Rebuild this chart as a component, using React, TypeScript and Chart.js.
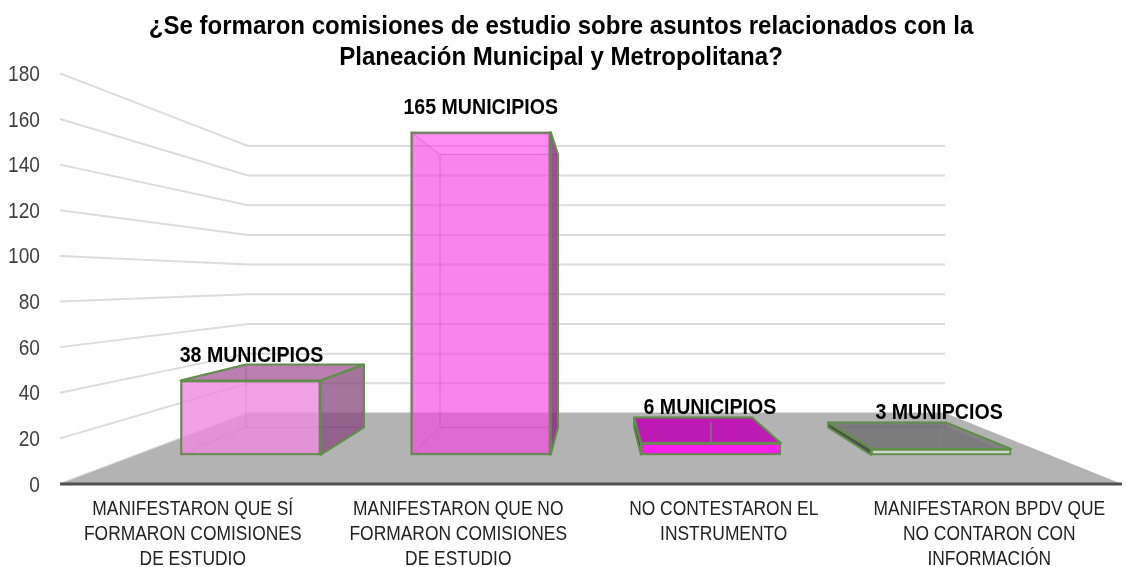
import React, { useEffect, useRef } from "react";
import { Chart, registerables } from "chart.js";

Chart.register(...registerables);

const title = [
  "¿Se formaron comisiones de estudio sobre asuntos relacionados con la",
  "Planeación Municipal y Metropolitana?",
];
const categories = [
  ["MANIFESTARON QUE SÍ", "FORMARON COMISIONES", "DE ESTUDIO"],
  ["MANIFESTARON QUE NO", "FORMARON COMISIONES", "DE ESTUDIO"],
  ["NO CONTESTARON EL", "INSTRUMENTO"],
  ["MANIFESTARON BPDV QUE", "NO CONTARON CON", "INFORMACIÓN"],
];
const values = [38, 165, 6, 3];
const valueLabels = ["38 MUNICIPIOS", "165 MUNICIPIOS", "6 MUNICIPIOS", "3 MUNIPCIOS"];

const frontColors = ["rgba(240,140,225,0.75)", "rgba(255,70,235,0.6)", "rgba(255,20,240,0.9)", "rgba(225,225,225,0.85)"];
const topColors = ["rgba(150,60,135,0.6)", "rgba(200,60,190,0.05)", "rgba(190,20,180,0.95)", "rgba(110,110,110,0.7)"];
const sideColors = ["rgba(130,70,120,0.7)", "rgba(140,40,130,0.8)", "rgba(90,10,85,0.9)", "rgba(70,70,70,0.9)"];
const innerColors = ["rgba(200,120,190,0.22)", "rgba(170,50,155,0.14)", "rgba(190,20,180,0.3)", "rgba(110,110,110,0.3)"];
const edge = "#5f8f4a";
const family = "'Liberation Sans', Arimo, Arial, sans-serif";

// The reference's lettering is condensed; each text size has its own narrowing.
const squeezeFor = (font: string) =>
  font.startsWith("bold 26") ? 0.925 : font.startsWith("bold 22") ? 0.89 : 0.87;

type Pt = [number, number];

function poly(ctx: CanvasRenderingContext2D, pts: Pt[], fill?: string, stroke?: string, lw = 1) {
  ctx.beginPath();
  pts.forEach((p, i) => (i ? ctx.lineTo(p[0], p[1]) : ctx.moveTo(p[0], p[1])));
  ctx.closePath();
  if (fill) {
    ctx.fillStyle = fill;
    ctx.fill();
  }
  if (stroke) {
    ctx.strokeStyle = stroke;
    ctx.lineWidth = lw;
    ctx.lineJoin = "round";
    ctx.stroke();
  }
}

// Perspective: everything is derived from the scales' pixels.
const WALL_X = 188 / 1062;
const WALL_X_R = 177 / 1062;
const WALL_DROP = 71 / 410.5;
const WALL_RATIO = 267 / 410.5;

function boxGeometry(chart: any, i: number) {
  const el = chart.getDatasetMeta(0).data[i];
  const l = el.x - el.width / 2;
  const r = el.x + el.width / 2;
  const top = el.y;
  const base = el.base;
  const mapX = (x: number) => 246 + (x - 180.5) * 0.8429;
  const backBase = base - 27.5;
  const backTop = backBase - (base - top) * 0.845;
  const fl: Pt = [l, base], fr: Pt = [r, base], tl: Pt = [l, top], tr: Pt = [r, top];
  const bfl: Pt = [mapX(l), backBase], bfr: Pt = [mapX(r), backBase], btl: Pt = [mapX(l), backTop], btr: Pt = [mapX(r), backTop];
  return { fl, fr, tl, tr, bfl, bfr, btl, btr, cx: el.x };
}

const box3d = {
  id: "box3d",
  beforeDraw(chart: any) {
    const ctx = chart.ctx;
    if (!ctx.__squeezed) {
      const orig = ctx.fillText;
      ctx.fillText = function (t: string, x: number, y: number) {
        const sx = squeezeFor(this.font);
        this.save();
        this.translate(x, y);
        this.scale(sx, 1);
        orig.call(this, t, 0, 0);
        this.restore();
      };
      ctx.__squeezed = true;
    }
  },
  beforeDatasetsDraw(chart: any) {
    const { ctx, chartArea: a } = chart;
    const y = chart.scales.y;
    const h = a.bottom - a.top;
    const bl = a.left + (a.right - a.left) * WALL_X;
    const br = a.right - (a.right - a.left) * WALL_X_R;
    const backBottom = a.bottom - h * WALL_DROP;
    ctx.save();
    y.ticks.forEach((t: any) => {
      const fy = y.getPixelForValue(t.value);
      const by = backBottom - (a.bottom - fy) * WALL_RATIO;
      ctx.beginPath();
      ctx.moveTo(a.left, fy);
      ctx.lineTo(bl, by);
      ctx.lineTo(br, by);
      ctx.strokeStyle = "#dcdcdc";
      ctx.lineWidth = 2;
      ctx.stroke();
    });
    poly(ctx, [[a.left, a.bottom], [bl, backBottom], [br, backBottom], [a.right, a.bottom]], "#b3b3b3");
    ctx.beginPath();
    ctx.moveTo(a.left, a.bottom);
    ctx.lineTo(a.right, a.bottom);
    ctx.strokeStyle = "#505050";
    ctx.lineWidth = 3;
    ctx.stroke();

    values.forEach((_, i) => {
      const g = boxGeometry(chart, i);
      poly(ctx, [g.bfl, g.bfr, g.btr, g.btl], innerColors[i], "rgba(120,60,120,0.3)", 1);
      poly(ctx, [g.fl, g.fr, g.bfr, g.bfl], innerColors[i], "rgba(120,60,120,0.2)", 1);
      poly(ctx, [g.fl, g.tl, g.btl, g.bfl], innerColors[i], "rgba(120,60,120,0.2)", 1);
      poly(ctx, [g.tl, g.tr, g.btr, g.btl], topColors[i], "rgba(120,60,120,0.3)", 1);
    });
    ctx.restore();
  },
  afterDatasetsDraw(chart: any) {
    const { ctx } = chart;
    ctx.save();
    values.forEach((_, i) => {
      const g = boxGeometry(chart, i);
      const seesRight = g.bfr[0] > g.fr[0];
      if (seesRight) poly(ctx, [g.fr, g.tr, g.btr, g.bfr], sideColors[i], edge, 2);
      else {
        poly(ctx, [g.fl, g.tl, g.btl, g.bfl], sideColors[i], edge, 2);
        ctx.beginPath();
        ctx.moveTo(g.cx, g.btl[1] + 5);
        ctx.lineTo(g.cx, g.tl[1]);
        ctx.strokeStyle = "rgba(130,130,130,0.8)";
        ctx.lineWidth = 1.5;
        ctx.stroke();
      }
      if (g.btl[1] < g.tl[1]) poly(ctx, [g.tl, g.tr, g.btr, g.btl], undefined, edge, 2);
    });
    ctx.fillStyle = "#000";
    ctx.font = `bold 22px ${family}`;
    ctx.textAlign = "center";
    ctx.textBaseline = "middle";
    const labelDx = [1, 0, -1, -2];
    valueLabels.forEach((txt, i) => {
      const g = boxGeometry(chart, i);
      const yPos = g.tl[1] < g.btl[1] ? g.tl[1] - 24 : g.btl[1] - 9;
      ctx.fillText(txt, g.cx + labelDx[i], yPos);
    });
    ctx.restore();
  },
};

export default function App() {
  const ref = useRef<HTMLCanvasElement>(null);
  useEffect(() => {
    const chart = new Chart(ref.current as HTMLCanvasElement, {
      type: "bar",
      data: {
        datasets: [
          {
            label: "Municipios",
            data: values.map((v, i) => ({ x: i, y: v })),
            xAxisID: "xBars",
            yAxisID: "yBars",
            backgroundColor: frontColors,
            borderColor: edge,
            borderWidth: 2,
            borderSkipped: false,
            barThickness: 140,
          },
        ],
      },
      options: {
        animation: false,
        responsive: false,
        layout: { padding: { right: 4 } },
        plugins: {
          legend: { display: false },
          tooltip: { enabled: false },
          title: {
            display: true,
            text: title,
            color: "#000",
            font: { family, size: 26, weight: "bold", lineHeight: 1.19 },
            padding: { top: 11.5, bottom: 0 },
          },
        },
        scales: {
          x: {
            type: "category",
            labels: categories as any,
            grid: { display: false, drawTicks: false },
            border: { display: false },
            ticks: { color: "#222", font: { family, size: 20, lineHeight: 1.25 }, maxRotation: 0, padding: 13, autoSkip: false },
            afterFit: (s: any) => { s.height = 83; s.paddingLeft = 0; s.paddingRight = 0; },
          },
          y: {
            type: "linear",
            min: 0,
            max: 180,
            grid: { display: false, drawTicks: false },
            border: { display: false },
            ticks: { stepSize: 20, color: "#404040", font: { family, size: 22 }, padding: 20, labelOffset: 1.5 },
            afterFit: (s: any) => { s.width = 60; },
          },
          xBars: { type: "linear", display: false, min: -0.8275, max: 3.7859, offset: false },
          yBars: { type: "linear", display: false, min: -14.9, max: 194.9 },
        },
      },
      plugins: [box3d],
    } as any);
    return () => chart.destroy();
  }, []);
  return (
    <div style={{ position: "fixed", left: 0, top: 0 }}>
      <canvas ref={ref} width={1126} height={567} style={{ display: "block" }} />
    </div>
  );
}
